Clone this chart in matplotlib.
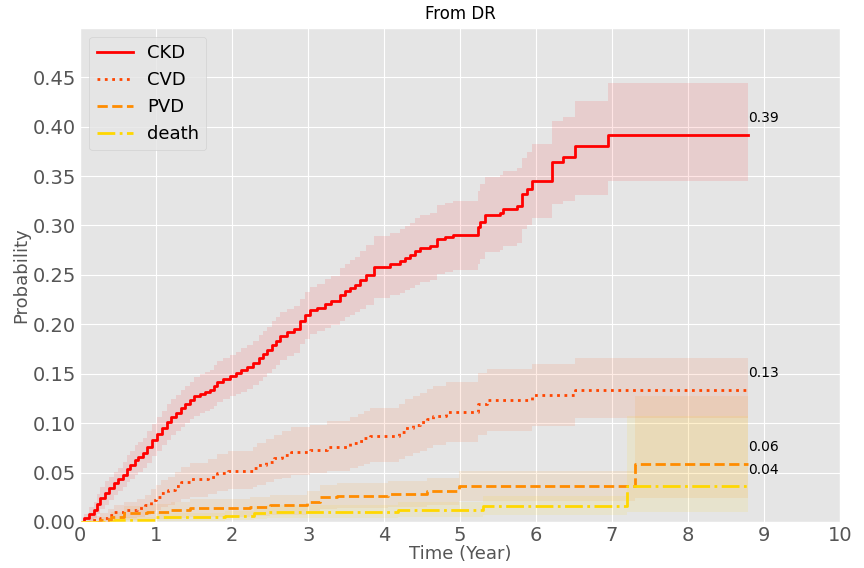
"""
Cumulative incidence curves from DR, with confidence bands.
"""
from matplotlib import pyplot as plt

plt.style.use('ggplot')

# ----- Data

ckd_t = [0, 0.05, 0.12, 0.18, 0.22, 0.26, 0.32, 0.38, 0.44, 0.5, 0.56, 0.62,
         0.66, 0.72, 0.76, 0.82, 0.88, 0.94, 1.01, 1.07, 1.14, 1.2, 1.26,
         1.32, 1.38, 1.44, 1.49, 1.57, 1.64, 1.71, 1.76, 1.8, 1.88, 1.97,
         2.05, 2.12, 2.19, 2.27, 2.35, 2.41, 2.46, 2.53, 2.58, 2.63, 2.72,
         2.81, 2.89, 2.96, 3.03, 3.12, 3.22, 3.3, 3.42, 3.49, 3.55, 3.62,
         3.68, 3.76, 3.86, 3.95, 4.08, 4.21, 4.28, 4.34, 4.41, 4.47, 4.61,
         4.7, 4.8, 4.91, 5.2, 5.23, 5.26, 5.33, 5.53, 5.57, 5.75, 5.82, 5.88,
         5.95, 6.14, 6.21, 6.35, 6.51, 6.95, 8.79]
ckd_v = [0, 0.004, 0.008, 0.012, 0.018, 0.024, 0.029, 0.034, 0.039, 0.043,
         0.048, 0.054, 0.058, 0.063, 0.066, 0.07, 0.076, 0.083, 0.089, 0.095,
         0.101, 0.106, 0.11, 0.115, 0.119, 0.123, 0.127, 0.13, 0.132, 0.134,
         0.138, 0.142, 0.145, 0.148, 0.151, 0.154, 0.157, 0.161, 0.166, 0.17,
         0.174, 0.179, 0.183, 0.188, 0.192, 0.195, 0.203, 0.209, 0.214, 0.217,
         0.221, 0.224, 0.23, 0.234, 0.237, 0.24, 0.245, 0.25, 0.258, 0.258,
         0.261, 0.264, 0.267, 0.27, 0.274, 0.277, 0.279, 0.286, 0.288, 0.29,
         0.29, 0.298, 0.304, 0.311, 0.313, 0.317, 0.32, 0.332, 0.337, 0.345,
         0.345, 0.364, 0.369, 0.38, 0.392, 0.392]
ckd_lo = [0, 0.0, 0.001, 0.004, 0.008, 0.013, 0.017, 0.022, 0.027, 0.031,
          0.035, 0.04, 0.044, 0.048, 0.051, 0.055, 0.06, 0.067, 0.072, 0.078,
          0.083, 0.088, 0.092, 0.096, 0.1, 0.104, 0.107, 0.11, 0.112, 0.114,
          0.117, 0.121, 0.124, 0.127, 0.13, 0.132, 0.135, 0.139, 0.143, 0.147,
          0.151, 0.155, 0.159, 0.164, 0.168, 0.171, 0.18, 0.185, 0.19, 0.193,
          0.196, 0.199, 0.203, 0.207, 0.209, 0.212, 0.216, 0.22, 0.227, 0.227,
          0.23, 0.232, 0.235, 0.237, 0.24, 0.243, 0.245, 0.251, 0.253, 0.255,
          0.255, 0.261, 0.266, 0.273, 0.275, 0.279, 0.282, 0.296, 0.3, 0.308,
          0.308, 0.322, 0.325, 0.331, 0.345, 0.345]
ckd_hi = [0, 0.008, 0.015, 0.02, 0.028, 0.035, 0.041, 0.046, 0.051, 0.055,
          0.061, 0.068, 0.072, 0.078, 0.081, 0.085, 0.092, 0.099, 0.106,
          0.112, 0.119, 0.124, 0.128, 0.134, 0.138, 0.142, 0.147, 0.15, 0.152,
          0.154, 0.159, 0.163, 0.166, 0.169, 0.172, 0.176, 0.179, 0.183,
          0.189, 0.193, 0.197, 0.203, 0.207, 0.212, 0.216, 0.219, 0.226,
          0.233, 0.238, 0.241, 0.246, 0.249, 0.257, 0.261, 0.265, 0.268,
          0.274, 0.28, 0.289, 0.289, 0.292, 0.296, 0.299, 0.303, 0.308, 0.311,
          0.313, 0.321, 0.323, 0.325, 0.325, 0.335, 0.342, 0.349, 0.351,
          0.355, 0.358, 0.368, 0.374, 0.382, 0.382, 0.406, 0.41, 0.426, 0.444,
          0.444]

cvd_t = [0, 0.12, 0.26, 0.36, 0.44, 0.57, 0.75, 0.85, 0.93, 1.0, 1.06, 1.15,
         1.24, 1.33, 1.45, 1.68, 1.8, 1.94, 2.2, 2.27, 2.33, 2.45, 2.55, 2.66,
         2.77, 3.03, 3.25, 3.55, 3.65, 3.73, 3.82, 4.12, 4.2, 4.28, 4.38,
         4.47, 4.56, 4.65, 4.82, 5.17, 5.24, 5.35, 5.88, 5.95, 6.45, 6.51,
         8.79]
cvd_v = [0, 0.002, 0.004, 0.007, 0.01, 0.012, 0.014, 0.017, 0.022, 0.025,
         0.029, 0.032, 0.036, 0.04, 0.043, 0.046, 0.05, 0.052, 0.052, 0.055,
         0.058, 0.061, 0.065, 0.068, 0.071, 0.073, 0.076, 0.08, 0.082, 0.085,
         0.087, 0.087, 0.091, 0.095, 0.098, 0.101, 0.104, 0.107, 0.111,
         0.111, 0.119, 0.123, 0.123, 0.128, 0.128, 0.134, 0.134]
cvd_lo = [0, 0.0, 0.0, 0.001, 0.003, 0.004, 0.005, 0.007, 0.01, 0.012, 0.015,
          0.017, 0.02, 0.023, 0.025, 0.028, 0.031, 0.033, 0.033, 0.035, 0.037,
          0.04, 0.043, 0.045, 0.048, 0.05, 0.052, 0.055, 0.057, 0.059, 0.061,
          0.061, 0.064, 0.067, 0.07, 0.072, 0.075, 0.078, 0.081, 0.081, 0.088,
          0.092, 0.092, 0.097, 0.097, 0.105, 0.105]
cvd_hi = [0, 0.006, 0.009, 0.013, 0.017, 0.02, 0.023, 0.027, 0.033, 0.037,
          0.042, 0.046, 0.051, 0.056, 0.06, 0.064, 0.069, 0.072, 0.072, 0.076,
          0.08, 0.084, 0.088, 0.092, 0.096, 0.098, 0.102, 0.106, 0.109, 0.112,
          0.115, 0.115, 0.119, 0.124, 0.127, 0.131, 0.135, 0.138, 0.142,
          0.142, 0.151, 0.155, 0.155, 0.16, 0.16, 0.166, 0.166]

pvd_t = [0, 0.26, 0.4, 0.57, 0.88, 1.2, 1.45, 2.24, 2.5, 2.98, 3.16, 3.38,
         4.05, 4.56, 4.98, 7.3, 8.79]
pvd_v = [0, 0.002, 0.005, 0.009, 0.01, 0.012, 0.014, 0.015, 0.017, 0.02,
         0.025, 0.026, 0.028, 0.031, 0.036, 0.059, 0.059]
pvd_lo = [0, 0.0, 0.0, 0.002, 0.003, 0.004, 0.005, 0.006, 0.007, 0.009,
          0.013, 0.014, 0.015, 0.017, 0.021, 0.024, 0.024]
pvd_hi = [0, 0.005, 0.01, 0.016, 0.018, 0.02, 0.023, 0.025, 0.027, 0.031,
          0.037, 0.039, 0.041, 0.045, 0.052, 0.127, 0.127]

death_t = [0, 0.44, 1.0, 1.9, 2.28, 2.46, 4.18, 5.3, 7.2, 8.79]
death_v = [0, 0.002, 0.005, 0.006, 0.009, 0.01, 0.012, 0.016, 0.036, 0.036]
death_lo = [0, 0.0, 0.001, 0.002, 0.003, 0.004, 0.005, 0.007, 0.01, 0.01]
death_hi = [0, 0.005, 0.009, 0.011, 0.016, 0.017, 0.02, 0.026, 0.107, 0.107]

# ----- Plotting

series = [
    ("CKD", ckd_t, ckd_v, ckd_lo, ckd_hi, 'red', '-'),
    ("CVD", cvd_t, cvd_v, cvd_lo, cvd_hi, 'orangered', ':'),
    ("PVD", pvd_t, pvd_v, pvd_lo, pvd_hi, 'darkorange', '--'),
    ("death", death_t, death_v, death_lo, death_hi, 'gold', '-.'),
]

fig = plt.figure(figsize=(8.64, 5.68), dpi=100)
ax = fig.add_axes([0.093, 0.081, 0.879, 0.870])

for name, t, v, lo, hi, color, ls in series:
    ax.plot(t, v, drawstyle='steps-post', color=color, linestyle=ls,
            linewidth=2, label=name)
    ax.fill_between(t, lo, hi, step='post', color=color, alpha=0.1,
                    linewidth=0)
    ax.text(t[-1], v[-1] + 0.013, "%.2f" % v[-1], fontsize=10,
            color='black')

ax.set_xlim(0, 10)
ax.set_ylim(0, 0.5)
ax.set_xticks(range(0, 11))
ax.set_yticks([0, 0.05, 0.1, 0.15, 0.2, 0.25, 0.3, 0.35, 0.4, 0.45])
ax.tick_params(labelsize=14, length=0, pad=3)
ax.set_xlabel("Time (Year)", fontsize=13, labelpad=0)
ax.set_ylabel("Probability", fontsize=13, labelpad=2)
ax.set_title("From DR", fontsize=12, color='black')
ax.legend(loc='upper left', fontsize=13)

plt.savefig("out.png", dpi=100)
